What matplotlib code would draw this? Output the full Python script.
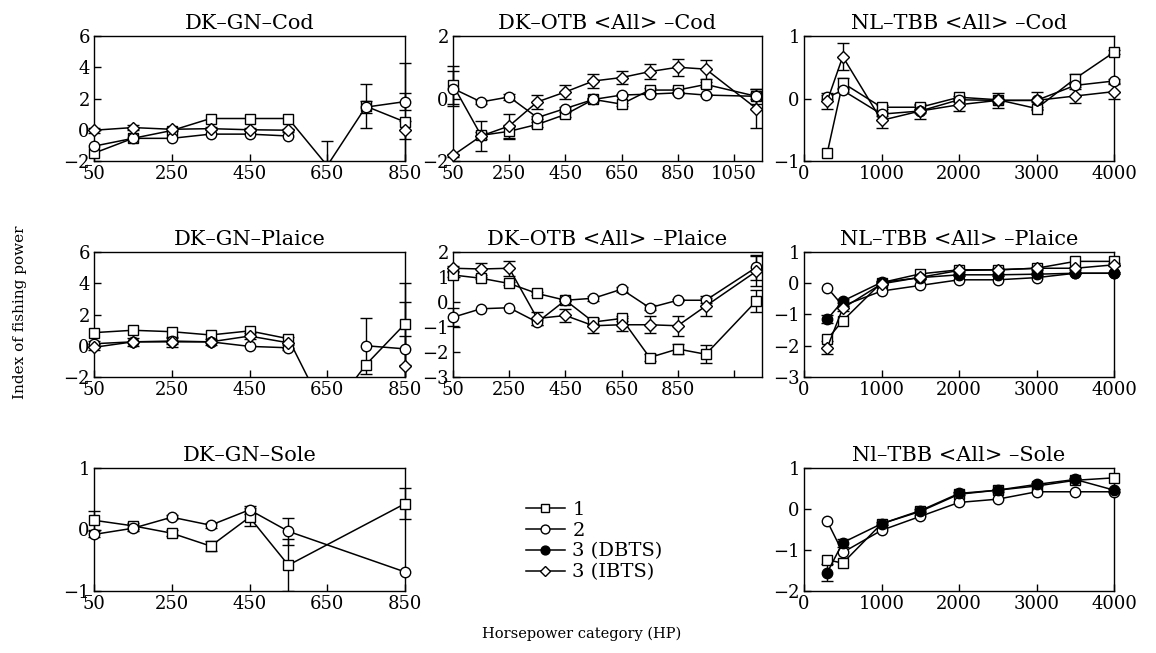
import numpy as np
import matplotlib
matplotlib.use("Agg")
import matplotlib.pyplot as plt
from matplotlib.lines import Line2D
from matplotlib.patches import Rectangle

plt.rcParams['font.family'] = ['DejaVu Serif']
plt.rcParams['mathtext.fontset'] = 'dejavuserif'

nan = np.nan

# ---------------- data ----------------
hp_gn = [50, 150, 250, 350, 450, 550, 650, 750, 850]
hp_gn_sole = [50, 150, 250, 350, 450, 550, 850]
hp_otb = [50, 150, 250, 350, 450, 550, 650, 750, 850, 950, 1130]
hp_nl = [300, 500, 1000, 1500, 2000, 2500, 3000, 3500, 4000]

legend_labels = ["1", "2", "3 (DBTS)", "3 (IBTS)"]

# DK-GN-Cod
gn_cod_1 = [-1.5, -0.55, -0.05, 0.72, 0.72, 0.72, -2.3, 1.5, 0.5]
gn_cod_1_err = [nan, nan, nan, nan, nan, nan, 1.55, 1.4, 3.8]
gn_cod_2 = [-1.05, -0.55, -0.55, -0.28, -0.28, -0.4, nan, 1.45, 1.8]
gn_cod_2_err = [nan, nan, nan, nan, nan, nan, nan, 0.4, 0.55]
gn_cod_ibts = [-0.03, 0.14, 0.03, 0.07, 0.0, -0.03, nan, nan, 0.0]
gn_cod_ibts_err = [0.15, 0.15, 0.1, 0.1, 0.1, 0.1, nan, nan, 0.57]

# DK-GN-Plaice
gn_pla_1 = [0.84, 0.99, 0.9, 0.69, 0.95, 0.45, -4.5, -1.2, 1.4]
gn_pla_1_err = [nan, nan, nan, nan, nan, nan, nan, nan, 2.6]
gn_pla_2 = [0.13, 0.25, 0.3, 0.25, -0.04, -0.13, nan, 0.0, -0.2]
gn_pla_2_err = [0.15, nan, 0.2, nan, nan, 0.15, nan, 1.8, 3.0]
gn_pla_ibts = [-0.1, 0.25, 0.25, 0.25, 0.62, 0.19, nan, nan, -1.3]
gn_pla_ibts_err = [0.2, 0.25, 0.3, 0.2, 0.2, 0.35, nan, nan, 1.9]

# DK-GN-Sole
gn_sol_1 = [0.15, 0.06, -0.06, -0.27, 0.2, -0.58, 0.42]
gn_sol_1_err = [0.15, 0.05, 0.05, 0.08, 0.15, 0.42, 0.25]
gn_sol_2 = [-0.08, 0.02, 0.2, 0.07, 0.32, -0.03, -0.69]
gn_sol_2_err = [0.05, 0.05, 0.03, 0.04, 0.06, 0.22, nan]

# DK-OTB-Cod
otb_cod_1 = [0.43, -1.18, -1.05, -0.83, -0.51, -0.03, -0.18, 0.27, 0.27, 0.45, 0.07]
otb_cod_1_err = [0.6, 0.1, 0.2, 0.08, 0.08, 0.05, 0.05, 0.08, 0.08, 0.08, 0.25]
otb_cod_2 = [0.32, -0.11, 0.05, -0.61, -0.32, -0.03, 0.11, 0.14, 0.18, 0.11, 0.07]
otb_cod_2_err = [0.55, 0.05, 0.1, 0.05, 0.05, 0.03, 0.03, 0.03, 0.03, 0.03, 0.1]
otb_cod_ibts = [-1.82, -1.2, -0.88, -0.11, 0.21, 0.56, 0.67, 0.86, 1.0, 0.94, -0.32]
otb_cod_ibts_err = [0.05, 0.48, 0.4, 0.22, 0.22, 0.22, 0.2, 0.25, 0.28, 0.3, 0.62]

# DK-OTB-Plaice
otb_pla_1 = [1.08, 0.95, 0.74, 0.34, 0.07, -0.8, -0.66, -2.22, -1.88, -2.09, 0.04]
otb_pla_1_err = [0.1, 0.05, 0.05, 0.05, 0.05, 0.1, 0.1, 0.15, 0.2, 0.35, 0.45]
otb_pla_2 = [-0.61, -0.27, -0.23, -0.81, 0.07, 0.15, 0.51, -0.23, 0.07, 0.07, 1.39]
otb_pla_2_err = [0.35, nan, nan, 0.1, 0.05, 0.1, 0.1, 0.1, 0.05, 0.1, 0.5]
otb_pla_ibts = [1.35, 1.32, 1.35, -0.66, -0.54, -0.95, -0.91, -0.91, -0.95, -0.16, 1.23]
otb_pla_ibts_err = [0.1, 0.25, 0.3, 0.25, 0.25, 0.3, 0.25, 0.35, 0.4, 0.4, 0.6]

# NL-TBB-Cod
nl_cod_1 = [-0.87, 0.25, -0.14, -0.14, 0.02, -0.02, -0.16, 0.32, 0.74]
nl_cod_1_err = [nan, 0.08, 0.03, 0.03, 0.02, 0.02, 0.03, 0.08, 0.03]
nl_cod_2 = [0.02, 0.13, -0.25, -0.2, -0.02, -0.03, -0.03, 0.21, 0.28]
nl_cod_2_err = [0.03, 0.03, 0.03, 0.03, 0.03, 0.03, 0.03, 0.03, 0.03]
nl_cod_ibts = [-0.04, 0.67, -0.35, -0.2, -0.1, -0.03, -0.03, 0.04, 0.11]
nl_cod_ibts_err = [0.13, 0.22, 0.12, 0.12, 0.1, 0.12, 0.14, 0.11, 0.12]

# NL-TBB-Plaice
nl_pla_1 = [-1.79, -1.2, 0.02, 0.3, 0.43, 0.43, 0.48, 0.7, 0.7]
nl_pla_2 = [-0.14, -0.72, -0.25, -0.07, 0.11, 0.11, 0.18, 0.32, 0.32]
nl_pla_dbts = [-1.15, -0.57, 0.03, 0.18, 0.27, 0.27, 0.29, 0.32, 0.32]
nl_pla_dbts_err = [0.12, 0.05, 0.03, 0.03, 0.03, 0.03, 0.03, 0.03, 0.03]
nl_pla_ibts = [-2.06, -0.8, -0.02, 0.19, 0.41, 0.43, 0.48, 0.48, 0.59]
nl_pla_ibts_err = [0.2, 0.08, 0.05, 0.05, 0.05, 0.05, 0.05, 0.05, 0.05]

# NL-TBB-Sole
nl_sol_1 = [-1.24, -1.32, -0.36, -0.06, 0.36, 0.46, 0.56, 0.7, 0.76]
nl_sol_2 = [-0.3, -1.06, -0.52, -0.18, 0.16, 0.24, 0.42, 0.42, 0.42]
nl_sol_dbts = [-1.55, -0.82, -0.36, -0.04, 0.38, 0.46, 0.6, 0.72, 0.46]
nl_sol_dbts_err = [0.2, 0.1, 0.04, 0.04, 0.04, 0.04, 0.04, 0.04, 0.04]

# ---------------- styles ----------------
STY = {
    "1": dict(marker="s", mfc="white", ms=7),
    "2": dict(marker="o", mfc="white", ms=7.5),
    "3 (DBTS)": dict(marker="o", mfc="black", ms=7.5),
    "3 (IBTS)": dict(marker="D", mfc="white", ms=6.5),
}
FS = 13
FS_TITLE = 15

W, H = 1156, 653
fig = plt.figure(figsize=(W / 100, H / 100), dpi=100)

cols = [(94, 405), (453, 762), (804, 1114)]
rows = [(36, 161), (252, 377), (468, 591)]


def make_ax(c, r):
    x0, x1 = cols[c]
    y0, y1 = rows[r]
    return fig.add_axes([x0 / W, 1 - y1 / H, (x1 - x0) / W, (y1 - y0) / H])


def clip_rect(ax):
    # clip vertically at the axes, but let edge markers/caps overhang sideways
    return Rectangle((-0.05, 0), 1.1, 1, transform=ax.transAxes,
                     facecolor="none", edgecolor="none")


def series(ax, x, y, key, err=None):
    x = np.asarray(x, float)
    y = np.asarray(y, float)
    if err is not None:
        e = np.asarray(err, float)
        m = ~np.isnan(e) & ~np.isnan(y)
        cont = ax.errorbar(x[m], y[m], yerr=e[m], fmt="none", ecolor="black",
                           elinewidth=1.0, capsize=4, capthick=1.0, zorder=2)
        for art in cont.get_children():
            art.set_clip_path(clip_rect(ax))
    st = STY[key]
    ln, = ax.plot(x, y, color="black", lw=1.1, marker=st["marker"], ms=st["ms"],
                  mfc=st["mfc"], mec="black", mew=1.0, zorder=3)
    ln.set_clip_path(clip_rect(ax))


def style(ax, title, xlim, xticks, ylim, yticks, xticklabels=None):
    ax.set_xlim(*xlim)
    ax.set_ylim(*ylim)
    ax.set_xticks(xticks)
    if xticklabels is not None:
        ax.set_xticklabels(xticklabels)
    ax.set_yticks(yticks)
    ax.set_yticklabels([str(v).replace("-", "\u2212") for v in yticks])
    ax.tick_params(direction="in", length=5, width=1, labelsize=FS, pad=3,
                   top=False, right=False)
    for s in ax.spines.values():
        s.set_linewidth(1.0)
    ax.set_title(title, fontsize=FS_TITLE, pad=5)


gn_xt = [50, 250, 450, 650, 850]
otb_xt = [50, 250, 450, 650, 850, 1050]
nl_xt = [0, 1000, 2000, 3000, 4000]

# DK-GN-Cod
ax = make_ax(0, 0)
series(ax, hp_gn, gn_cod_1, "1", gn_cod_1_err)
series(ax, hp_gn, gn_cod_2, "2", gn_cod_2_err)
series(ax, hp_gn, gn_cod_ibts, "3 (IBTS)", gn_cod_ibts_err)
style(ax, "DK\u2013GN\u2013Cod", (50, 850), gn_xt, (-2, 6), [-2, 0, 2, 4, 6])

# DK-OTB-Cod
ax = make_ax(1, 0)
series(ax, hp_otb, otb_cod_1, "1", otb_cod_1_err)
series(ax, hp_otb, otb_cod_2, "2", otb_cod_2_err)
series(ax, hp_otb, otb_cod_ibts, "3 (IBTS)", otb_cod_ibts_err)
style(ax, "DK\u2013OTB <All> \u2013Cod", (50, 1150), otb_xt, (-2, 2), [-2, 0, 2])

# NL-TBB-Cod
ax = make_ax(2, 0)
series(ax, hp_nl, nl_cod_1, "1", nl_cod_1_err)
series(ax, hp_nl, nl_cod_2, "2", nl_cod_2_err)
series(ax, hp_nl, nl_cod_ibts, "3 (IBTS)", nl_cod_ibts_err)
style(ax, "NL\u2013TBB <All> \u2013Cod", (0, 4000), nl_xt, (-1, 1), [-1, 0, 1])

# DK-GN-Plaice
ax = make_ax(0, 1)
series(ax, hp_gn, gn_pla_1, "1", gn_pla_1_err)
series(ax, hp_gn, gn_pla_2, "2", gn_pla_2_err)
series(ax, hp_gn, gn_pla_ibts, "3 (IBTS)", gn_pla_ibts_err)
style(ax, "DK\u2013GN\u2013Plaice", (50, 850), gn_xt, (-2, 6), [-2, 0, 2, 4, 6])

# DK-OTB-Plaice
ax = make_ax(1, 1)
series(ax, hp_otb, otb_pla_1, "1", otb_pla_1_err)
series(ax, hp_otb, otb_pla_2, "2", otb_pla_2_err)
series(ax, hp_otb, otb_pla_ibts, "3 (IBTS)", otb_pla_ibts_err)
style(ax, "DK\u2013OTB <All> \u2013Plaice", (50, 1150), otb_xt, (-3, 2),
      [-3, -2, -1, 0, 1, 2], xticklabels=["50", "250", "450", "650", "850", ""])

# NL-TBB-Plaice
ax = make_ax(2, 1)
series(ax, hp_nl, nl_pla_1, "1")
series(ax, hp_nl, nl_pla_2, "2")
series(ax, hp_nl, nl_pla_dbts, "3 (DBTS)", nl_pla_dbts_err)
series(ax, hp_nl, nl_pla_ibts, "3 (IBTS)", nl_pla_ibts_err)
style(ax, "NL\u2013TBB <All> \u2013Plaice", (0, 4000), nl_xt, (-3, 1), [-3, -2, -1, 0, 1])

# DK-GN-Sole
ax = make_ax(0, 2)
series(ax, hp_gn_sole, gn_sol_1, "1", gn_sol_1_err)
series(ax, hp_gn_sole, gn_sol_2, "2", gn_sol_2_err)
style(ax, "DK\u2013GN\u2013Sole", (50, 850), gn_xt, (-1, 1), [-1, 0, 1])

# NL-TBB-Sole
ax = make_ax(2, 2)
series(ax, hp_nl, nl_sol_1, "1")
series(ax, hp_nl, nl_sol_2, "2")
series(ax, hp_nl, nl_sol_dbts, "3 (DBTS)", nl_sol_dbts_err)
style(ax, "Nl\u2013TBB <All> \u2013Sole", (0, 4000), nl_xt, (-2, 1), [-2, -1, 0, 1])

# legend
handles = [Line2D([], [], color="black", lw=1.1, marker=STY[k]["marker"],
                  ms=STY[k]["ms"] * 0.85, mfc=STY[k]["mfc"], mec="black")
           for k in legend_labels]
fig.legend(handles, legend_labels, loc="upper left",
           bbox_to_anchor=(516 / W, 1 - 491 / H), frameon=False,
           fontsize=14, handlelength=2.0, labelspacing=0.15,
           handletextpad=0.4, borderpad=0)

fig.text(20 / W, 1 - 312 / H, "Index of fishing power", rotation=90,
         ha="center", va="center", fontsize=11)
fig.text(582 / W, 1 - 634 / H, "Horsepower category (HP)", ha="center",
         va="center", fontsize=10.5)

fig.savefig("out.png", dpi=100)
